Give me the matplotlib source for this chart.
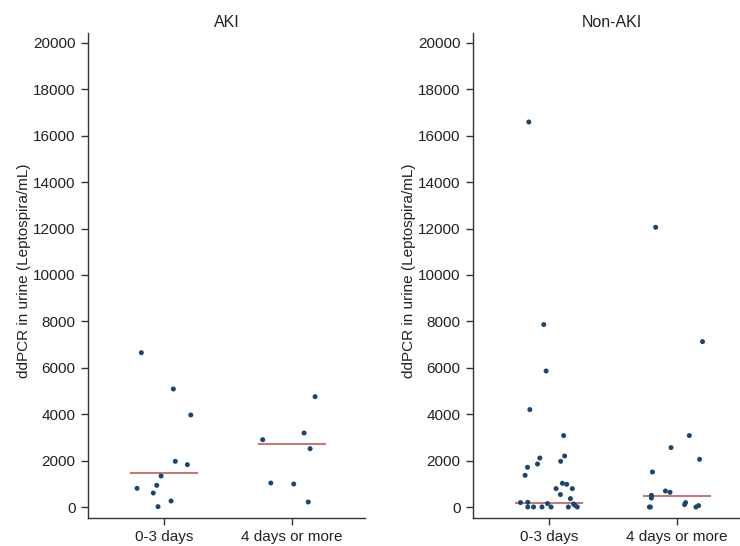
import matplotlib.pyplot as plt
import numpy as np

plt.rcParams['font.family'] = ['Liberation Sans', 'DejaVu Sans']

groups = ['0-3 days', '4 days or more']
panels = ['AKI', 'Non-AKI']

# ddPCR values (Leptospira/mL)
aki_early = [6651, 5086, 3966, 1968, 1825, 1336, 933, 804, 603, 259, 15]
aki_late = [4756, 3190, 2902, 2514, 1034, 991, 216]
non_early = [16595, 7862, 5862, 4198, 3078, 1366, 1711, 1853, 2112, 1970, 2198,
             793, 537, 1022, 978, 793, 362, 190, 203, 0, 0, 0, 147, 0, 0, 129, 73, 0]
non_late = [12056, 7129, 3078, 2560, 2056, 1509, 690, 634, 504, 388, 0, 0,
            190, 103, 0, 60]

# horizontal jitter of each dot, as it appears in the figure
aki_early_jit = [-0.177, 0.073, 0.209, 0.088, 0.182, -0.023, -0.057, -0.211, -0.084, 0.055, -0.047]
aki_late_jit = [0.18, 0.094, -0.229, 0.141, -0.166, 0.013, 0.127]
non_early_jit = [-0.158, -0.041, -0.023, -0.150, 0.114, -0.187, -0.168, -0.090, -0.072, 0.091, 0.122,
                 0.055, 0.089, 0.104, 0.138, 0.182, 0.167, -0.223, -0.166, -0.166, -0.121, -0.055,
                 -0.012, 0.016, 0.151, 0.192, 0.202, 0.221]
non_late_jit = [-0.167, 0.199, 0.096, -0.047, 0.176, -0.192, -0.091, -0.055, -0.200, -0.200,
                -0.216, -0.208, 0.067, 0.059, 0.148, 0.168]

# level of the red summary line per group
aki_lines = [1451, 2730]
non_lines = [172, 474]

data = {
    'AKI': ([aki_early, aki_late], [aki_early_jit, aki_late_jit], aki_lines),
    'Non-AKI': ([non_early, non_late], [non_early_jit, non_late_jit], non_lines),
}

W, H = 740, 546
fig = plt.figure(figsize=(W / 100, H / 100), dpi=100)

dot_color = '#1a476f'
line_color = '#c47a7a'
axis_color = '#333333'

lefts = [88, 473]
for name, left in zip(panels, lefts):
    ax = fig.add_axes([left / W, (H - 518) / H, 277 / W, 485 / H])
    vals, jits, lines = data[name]
    for i, (v, j, m) in enumerate(zip(vals, jits, lines)):
        pos = i + 1
        ax.plot([pos - 0.26, pos + 0.26], [m, m], color=line_color, lw=1.5, zorder=2)
        ax.scatter(pos + np.array(j), v, s=13, color=dot_color, marker='o',
                   edgecolors='none', zorder=3)

    ax.set_xlim(0.406, 2.57)
    ax.set_ylim(-474, 20430)
    ax.set_xticks([1, 2])
    ax.set_xticklabels(groups)
    ax.set_yticks(np.arange(0, 20001, 2000))
    ax.tick_params(axis='both', length=5, width=1, color=axis_color,
                   labelsize=11, labelcolor='#222222', pad=4)
    for s in ['top', 'right']:
        ax.spines[s].set_visible(False)
    for s in ['left', 'bottom']:
        ax.spines[s].set_color(axis_color)
        ax.spines[s].set_linewidth(1)

    ax.set_title(name, fontsize=11.5, color='#222222', pad=4)
    ax.set_ylabel('ddPCR in urine (Leptospira/mL)', fontsize=11, color='#222222')
    ax.yaxis.set_label_coords(-0.205, 0.51)

fig.savefig('out.png', dpi=100)
